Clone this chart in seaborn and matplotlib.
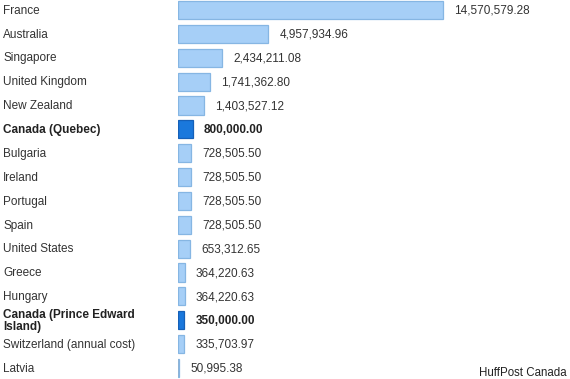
import matplotlib
matplotlib.use("Agg")
import matplotlib.pyplot as plt
import matplotlib.transforms as mtransforms
import seaborn as sns
import pandas as pd

countries = ["France", "Australia", "Singapore", "United Kingdom", "New Zealand",
             "Canada (Quebec)", "Bulgaria", "Ireland", "Portugal", "Spain",
             "United States", "Greece", "Hungary", "Canada (Prince Edward\nIsland)",
             "Switzerland (annual cost)", "Latvia"]
values = [14570579.28, 4957934.96, 2434211.08, 1741362.80, 1403527.12,
          800000.00, 728505.50, 728505.50, 728505.50, 728505.50,
          653312.65, 364220.63, 364220.63, 350000.00, 335703.97, 50995.38]
highlight = [c.startswith("Canada") for c in countries]

df = pd.DataFrame({"country": countries, "value": values})

sns.set_theme(style="white")
plt.rcParams["font.family"] = ["Liberation Sans", "DejaVu Sans"]

fig = plt.figure(figsize=(5.7, 3.79), dpi=100)
fig.patch.set_facecolor("white")
ax = fig.add_axes([178 / 570, 0, 1 - 178 / 570, 1])

light = "#a6cff7"
dark = "#1a78dc"
palette = {c: (dark if h else light) for c, h in zip(countries, highlight)}
sns.barplot(data=df, y="country", x="value", hue="country", palette=palette,
            legend=False, orient="h", width=0.76, ax=ax, saturation=1)

for patch, h in zip(ax.patches, highlight):
    patch.set_edgecolor("#1560b8" if h else "#86b6e3")
    patch.set_linewidth(0.9)

px_per_unit = 18.2 / 1e6
ax.set_xlim(0, (570 - 178) / px_per_unit)
ax.set_ylim(15.46, -0.42)
ax.axis("off")

# Latvia thin bar as line
ax.plot([0, 0], [15 - 0.38, 15 + 0.38], color="#8fb4d6", lw=1.5, solid_capstyle="butt")

trans = mtransforms.blended_transform_factory(fig.transFigure, ax.transData)
for i, (c, v, h) in enumerate(zip(countries, values, highlight)):
    ax.text(3 / 570, i + 0.03, c, transform=trans, ha="left", va="center",
            fontsize=8.5, color="#222222" if h else "#333333",
            fontweight="bold" if h else "normal", linespacing=1.1)
    ax.annotate(f"{v:,.2f}", xy=(v, i + 0.03), xytext=(8, 0), textcoords="offset points",
                ha="left", va="center", fontsize=8.5,
                color="#222222" if h else "#333333",
                fontweight="bold" if h else "normal")

fig.text(567 / 570, 1 - 373 / 379, "HuffPost Canada", ha="right", va="center",
         fontsize=8.3, color="#222222")

fig.savefig("out.png", dpi=100, facecolor="white")
